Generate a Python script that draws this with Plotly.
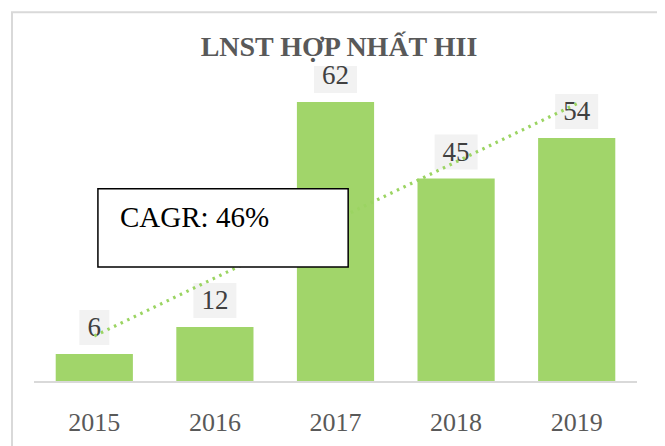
import numpy as np
import plotly.graph_objects as go

years = ["2015", "2016", "2017", "2018", "2019"]
profit = [6, 12, 62, 45, 54]
title_text = "LNST HỢP NHẤT HII"
cagr_text = "CAGR: 46%"

bar_color = "#A1D56A"
trend_color = "#9BD462"
serif = "Liberation Serif, Times New Roman, serif"

# Linear trendline (as in the original chart) fitted on the data
idx = np.arange(len(profit))
slope, intercept = np.polyfit(idx, profit, 1)
trend = [float(v) for v in intercept + slope * idx]

fig = go.Figure()
fig.add_trace(go.Bar(x=years, y=profit, marker=dict(color=bar_color, line=dict(width=0)),
                     hoverinfo="skip", showlegend=False))
fig.add_trace(go.Scatter(x=years, y=profit, mode="markers+text",
                         text=[str(v) for v in profit], textposition="top center",
                         marker=dict(size=16, color="rgba(0,0,0,0)"),
                         textfont=dict(family=serif, size=27, color="#404040"),
                         hoverinfo="skip", showlegend=False, cliponaxis=False))
fig.add_trace(go.Scatter(x=years, y=trend, mode="lines",
                         line=dict(color=trend_color, width=3.2, dash="2.5px,4.8px"),
                         hoverinfo="skip", showlegend=False, cliponaxis=False))

shapes = []
for i, v in enumerate(profit):
    w = 17 + 13 * len(str(v))
    shapes.append(dict(type="rect", layer="below", xref="x", yref="y",
                       xsizemode="pixel", xanchor=i, x0=-w / 2, x1=w / 2,
                       ysizemode="pixel", yanchor=v, y0=9, y1=44,
                       fillcolor="#F2F2F2", line=dict(width=0)))
# outer chart border
shapes.append(dict(type="rect", layer="below", xref="paper", yref="paper",
                   x0=-0.0365, x1=1.043, y0=-0.3, y1=1.171,
                   fillcolor="rgba(0,0,0,0)", line=dict(color="#D9D9D9", width=2)))
# CAGR box
shapes.append(dict(type="rect", layer="above", xref="paper", yref="paper",
                   x0=0.106, x1=0.521, y0=0.362, y1=0.610,
                   fillcolor="white", line=dict(color="black", width=1.5)))

fig.update_layout(
    width=665, height=446,
    margin=dict(l=26, r=36, t=58, b=73),
    paper_bgcolor="white", plot_bgcolor="white",
    bargap=0.36,
    shapes=shapes,
    title=dict(text=f"<b>{title_text}</b>", x=331 / 665, xanchor="center",
               y=1 - 38 / 446, yanchor="middle",
               font=dict(family=serif, size=28, color="#595959")),
    annotations=[dict(text=cagr_text, xref="paper", yref="paper", x=0.139, y=0.521,
                      xanchor="left", yanchor="middle", showarrow=False,
                      font=dict(family=serif, size=29, color="black"))],
    xaxis=dict(type="category", categoryorder="array", categoryarray=years,
               range=[-0.5, len(years) - 0.5], autorange=False,
               showline=True, linecolor="#D9D9D9", linewidth=1.5,
               ticks="", ticklabelstandoff=17, showgrid=False, zeroline=False,
               tickfont=dict(family=serif, size=26, color="#595959")),
    yaxis=dict(range=[0, 70], autorange=False, visible=False, showgrid=False, zeroline=False),
)

fig.write_html("out.html")
